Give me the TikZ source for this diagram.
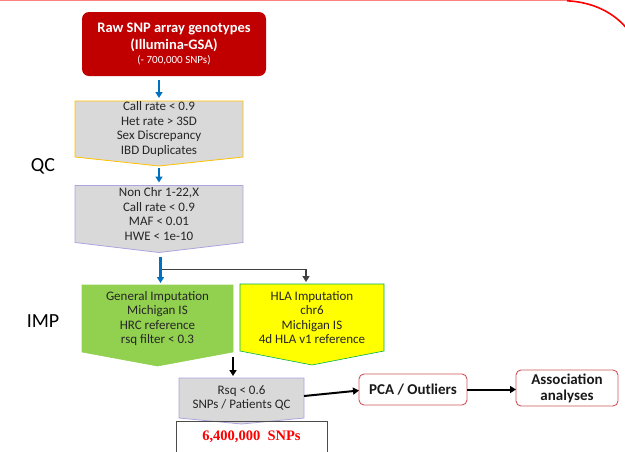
\documentclass[tikz,border=0pt]{standalone}
\usepackage{fontspec}
\setmainfont{Carlito}
\newfontfamily\timesf{Liberation Serif}
\usetikzlibrary{arrows.meta,backgrounds,calc}
\definecolor{darkred}{HTML}{C00000}
\definecolor{boxgray}{HTML}{D9D9D9}
\definecolor{gold}{HTML}{FFC000}
\definecolor{lav}{HTML}{B0A2DE}
\definecolor{leaf}{HTML}{92D050}
\definecolor{hlayel}{HTML}{FFFF00}
\definecolor{hlagreen}{HTML}{00B050}
\definecolor{arrblue}{HTML}{0070C0}
\definecolor{conngray}{HTML}{404040}
\definecolor{pcared}{HTML}{D0555A}
\definecolor{toppink}{HTML}{FF8080}
\newcommand\chevshape[3]{%
  \begin{scope}[on background layer]
    \draw[#2] (#1.north west) -- (#1.north east) -- (#1.south east)
      -- ($(#1.south)+(0,#3)$) -- (#1.south west) -- cycle;
  \end{scope}}
\begin{document}
\begin{tikzpicture}[x=1pt,y=-1pt,
  boxtxt/.style={align=center, inner sep=0pt, outer sep=0pt,
    font=\fontsize{13}{14.5}\selectfont, text=black!85},
  bluearr/.style={draw=arrblue, line width=2.2pt, -{Triangle[length=6pt,width=7pt]}},
  grayarr/.style={draw=conngray, line width=1.9pt, -{Triangle[length=6pt,width=7pt]}},
  blackarr/.style={draw=black, line width=2pt, -{Triangle[length=6pt,width=7pt]}},
  resbox/.style={draw=pcared, line width=0.9pt, rounded corners=5pt, fill=white,
    align=center, inner sep=0pt, outer sep=0pt,
    font=\bfseries\fontsize{15}{16}\selectfont, text=black!90}
]
\useasboundingbox (0,0) rectangle (625,451);
\clip (0,0) rectangle (625,451);

% top decoration
\draw[toppink, line width=1.5pt] (0,0.6) -- (568,0.6);
\draw[red, line width=1.6pt] (567,0.8) .. controls (592,2) and (614,12) .. (628,30);

% raw genotypes
\node[fill=darkred, rounded corners=7pt, minimum width=184pt, minimum height=64pt,
  inner sep=0pt, outer sep=0pt, align=center, text=white,
  font=\bfseries\fontsize{14.5}{17}\selectfont] (raw) at (174,44)
  {Raw SNP array genotypes\\(Illumina-GSA)\\[-3pt]{\mdseries\fontsize{11}{13}\selectfont (- 700,000 SNPs)}};

% QC box 1
\node[boxtxt, minimum width=168pt, minimum height=56pt] (b1) at (159,129)
  {Call rate < 0.9\\Het rate > 3SD\\Sex Discrepancy\\IBD Duplicates};
\chevshape{b1}{fill=boxgray, draw=gold, line width=0.8pt}{9}
\coordinate (b1tip) at ($(b1.south)+(0,9)$);

% QC box 2
\node[boxtxt, minimum width=168pt, minimum height=57pt] (b2) at (159,214)
  {Non Chr 1-22,X\\Call rate < 0.9\\MAF < 0.01\\HWE < 1e-10};
\chevshape{b2}{fill=boxgray, draw=lav, line width=0.8pt}{10}
\coordinate (b2tip) at ($(b2.south)+(0,10)$);

% imputation boxes
\node[boxtxt, minimum width=151pt, minimum height=67pt] (gen) at (157.5,318.5)
  {General Imputation\\Michigan IS\\HRC reference\\rsq filter < 0.3};
\chevshape{gen}{fill=leaf, draw=leaf, line width=0.6pt}{14}

\node[boxtxt, minimum width=144pt, minimum height=67pt] (hla) at (312,317.5)
  {HLA Imputation\\chr6\\Michigan IS\\4d HLA v1 reference};
\chevshape{hla}{fill=hlayel, draw=hlagreen, line width=0.6pt}{14}

% Rsq box
\node[boxtxt, minimum width=125pt, minimum height=40pt] (rsq) at (241.5,398)
  {Rsq < 0.6\\SNPs / Patients QC};
\chevshape{rsq}{fill=boxgray, draw=lav, line width=0.8pt}{6}

% SNP count
\node[draw=black!70, line width=0.6pt, minimum width=151pt, minimum height=32pt,
  inner sep=0pt, outer sep=0pt, anchor=north, text=red,
  font=\timesf\bfseries\fontsize{14.5}{16}\selectfont] (snp) at (251.5,421)
  {6,400,000\ \ SNPs};

% result boxes
\node[resbox, minimum width=108pt, minimum height=31pt] (pca) at (413,389.5) {PCA / Outliers};
\node[resbox, minimum width=102pt, minimum height=36pt] (assoc) at (567,388) {Association\\analyses};

% side labels
\node[font=\fontsize{20}{22}\selectfont, inner sep=0pt] (qc) at (43,166) {QC};
\node[font=\fontsize{20}{22}\selectfont, inner sep=0pt] (imp) at (43,321) {IMP};

% connectors
\draw[bluearr] ([yshift=-4pt]raw.south -| b1.north) -- ([yshift=3pt]b1.north);
\draw[bluearr] ([yshift=-2pt]b1tip) -- ([yshift=3pt]b2.north);
\coordinate (jn) at ($(b2tip)+(1.5,17)$);
\draw[grayarr] (jn) -| ([xshift=-6pt,yshift=2pt]hla.north);
\draw[bluearr] ([xshift=1.5pt,yshift=-4pt]b2tip) -- ([yshift=2pt]jn |- gen.north);
\draw[blackarr] ([yshift=-5pt]gen.south east) -- ([yshift=2pt]gen.south east |- rsq.north);
\draw[blackarr] ([yshift=2pt]rsq.east) -- ([yshift=-1pt]pca.west);
\draw[blackarr] (pca.east) -- (assoc.west |- pca.east);
\end{tikzpicture}
\end{document}
